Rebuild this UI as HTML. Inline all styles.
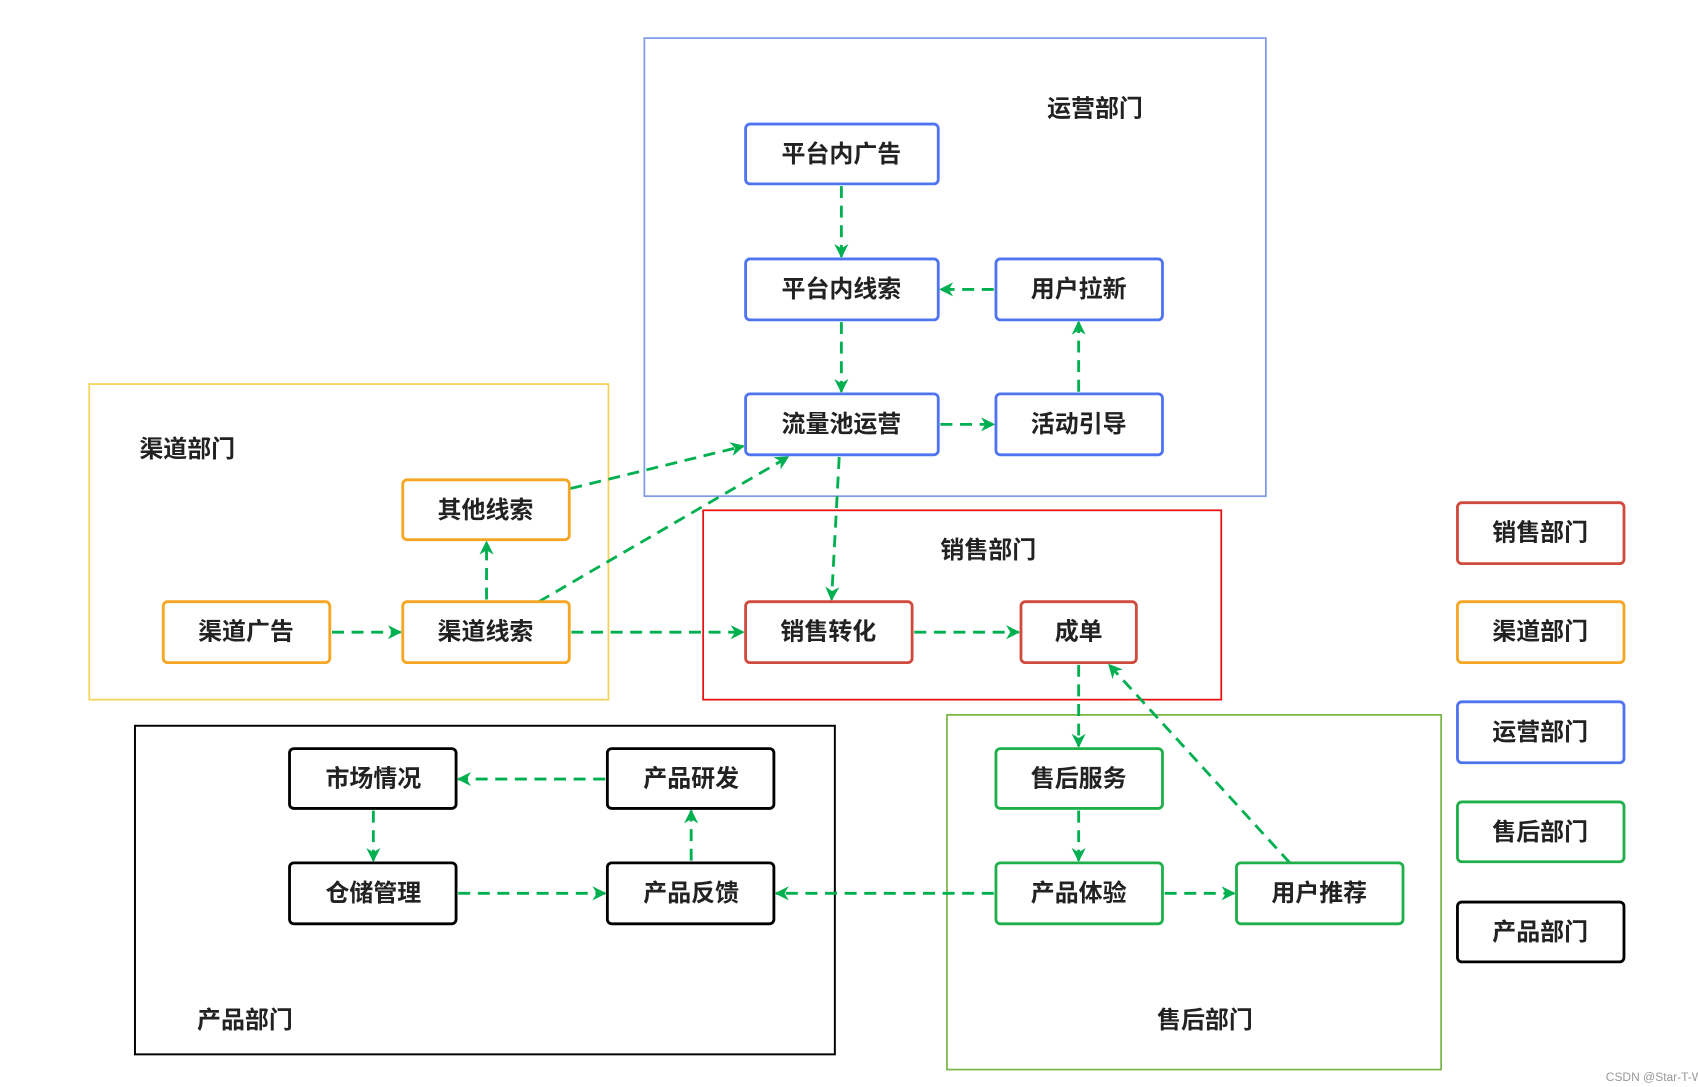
<!DOCTYPE html>
<html><head><meta charset="utf-8"><style>
html,body{margin:0;padding:0;background:#fff;}
svg{display:block;}
text{font-family:"Liberation Sans","Noto Sans CJK SC",sans-serif;font-weight:bold;font-size:22px;fill:#222;text-anchor:middle;dominant-baseline:central;}
.n{stroke-width:2.6;fill:#fff;}
.a{stroke:#00b050;stroke-width:2.6;stroke-dasharray:11 7;fill:none;marker-end:url(#ar);}
</style></head><body>
<svg width="1698" height="1087" viewBox="0 0 1560 999" preserveAspectRatio="none">
<defs><marker id="ar" viewBox="0 0 10 10" refX="9" refY="5" markerWidth="5" markerHeight="5" orient="auto" markerUnits="strokeWidth"><path d="M0,0 L10,5 L0,10 L3,5 z" fill="#00b050"/></marker></defs>
<!-- containers -->
<rect x="592" y="35" width="571" height="421" fill="none" stroke="#7f9be6" stroke-width="1.6"/>
<rect x="82" y="353" width="477" height="290" fill="none" stroke="#f5d35a" stroke-width="1.6"/>
<rect x="646" y="469" width="476" height="174" fill="none" stroke="#e81010" stroke-width="1.6"/>
<rect x="124" y="667" width="643" height="302" fill="none" stroke="#000" stroke-width="1.8"/>
<rect x="870" y="657" width="454" height="326" fill="none" stroke="#7ab648" stroke-width="1.6"/>
<text x="1006" y="100">运营部门</text>
<text x="172" y="413">渠道部门</text>
<text x="908" y="506">销售部门</text>
<text x="225" y="938">产品部门</text>
<text x="1107" y="938">售后部门</text>
<!-- arrows -->
<line class="a" x1="773" y1="171" x2="773" y2="236"/>
<line class="a" x1="913" y1="266" x2="864" y2="266"/>
<line class="a" x1="991" y1="360" x2="991" y2="296"/>
<line class="a" x1="773" y1="296" x2="773" y2="360"/>
<line class="a" x1="864" y1="390" x2="913" y2="390"/>
<line class="a" x1="771" y1="420" x2="764" y2="551"/>
<line class="a" x1="524" y1="449" x2="683" y2="410"/>
<line class="a" x1="495" y1="553" x2="724" y2="420"/>
<line class="a" x1="447" y1="551" x2="447" y2="498"/>
<line class="a" x1="305" y1="581" x2="368" y2="581"/>
<line class="a" x1="525" y1="581" x2="683" y2="581"/>
<line class="a" x1="840" y1="581" x2="936" y2="581"/>
<line class="a" x1="991" y1="611" x2="991" y2="686"/>
<line class="a" x1="1185" y1="793" x2="1019" y2="611"/>
<line class="a" x1="991" y1="745" x2="991" y2="791"/>
<line class="a" x1="1070" y1="821" x2="1134" y2="821"/>
<line class="a" x1="913" y1="821" x2="713" y2="821"/>
<line class="a" x1="556" y1="716" x2="421" y2="716"/>
<line class="a" x1="343" y1="745" x2="343" y2="791"/>
<line class="a" x1="421" y1="821" x2="556" y2="821"/>
<line class="a" x1="635" y1="791" x2="635" y2="745"/>
<!-- blue nodes -->
<g stroke="#4f74f0">
<rect class="n" x="685" y="114" width="177" height="55" rx="4"/>
<rect class="n" x="685" y="238" width="177" height="56" rx="4"/>
<rect class="n" x="915" y="238" width="153" height="56" rx="4"/>
<rect class="n" x="685" y="362" width="177" height="56" rx="4"/>
<rect class="n" x="915" y="362" width="153" height="56" rx="4"/>
<rect class="n" x="1339" y="645" width="153" height="56" rx="4"/>
</g>
<g stroke="#f5a623">
<rect class="n" x="370" y="441" width="153" height="55" rx="4"/>
<rect class="n" x="150" y="553" width="153" height="56" rx="4"/>
<rect class="n" x="370" y="553" width="153" height="56" rx="4"/>
<rect class="n" x="1339" y="553" width="153" height="56" rx="4"/>
</g>
<g stroke="#d04a3e">
<rect class="n" x="685" y="553" width="153" height="56" rx="4"/>
<rect class="n" x="938" y="553" width="106" height="56" rx="4"/>
<rect class="n" x="1339" y="462" width="153" height="56" rx="4"/>
</g>
<g stroke="#1fb04b">
<rect class="n" x="915" y="688" width="153" height="55" rx="4"/>
<rect class="n" x="915" y="793" width="153" height="56" rx="4"/>
<rect class="n" x="1136" y="793" width="153" height="56" rx="4"/>
<rect class="n" x="1339" y="737" width="153" height="55" rx="4"/>
</g>
<g stroke="#000">
<rect class="n" x="266" y="688" width="153" height="55" rx="4"/>
<rect class="n" x="558" y="688" width="153" height="55" rx="4"/>
<rect class="n" x="266" y="793" width="153" height="56" rx="4"/>
<rect class="n" x="558" y="793" width="153" height="56" rx="4"/>
<rect class="n" x="1339" y="829" width="153" height="55" rx="4"/>
</g>
<text x="773" y="142">平台内广告</text>
<text x="773" y="266">平台内线索</text>
<text x="991" y="266">用户拉新</text>
<text x="773" y="390">流量池运营</text>
<text x="991" y="390">活动引导</text>
<text x="446" y="469">其他线索</text>
<text x="226" y="581">渠道广告</text>
<text x="446" y="581">渠道线索</text>
<text x="761" y="581">销售转化</text>
<text x="991" y="581">成单</text>
<text x="991" y="716">售后服务</text>
<text x="991" y="821">产品体验</text>
<text x="1212" y="821">用户推荐</text>
<text x="343" y="716">市场情况</text>
<text x="635" y="716">产品研发</text>
<text x="343" y="821">仓储管理</text>
<text x="635" y="821">产品反馈</text>
<text x="1415" y="490">销售部门</text>
<text x="1415" y="581">渠道部门</text>
<text x="1415" y="673">运营部门</text>
<text x="1415" y="765">售后部门</text>
<text x="1415" y="857">产品部门</text>
<text x="1520" y="990" style="font-size:11px;font-weight:normal;fill:#999;">CSDN @Star-T-W</text>
</svg>
</body></html>
